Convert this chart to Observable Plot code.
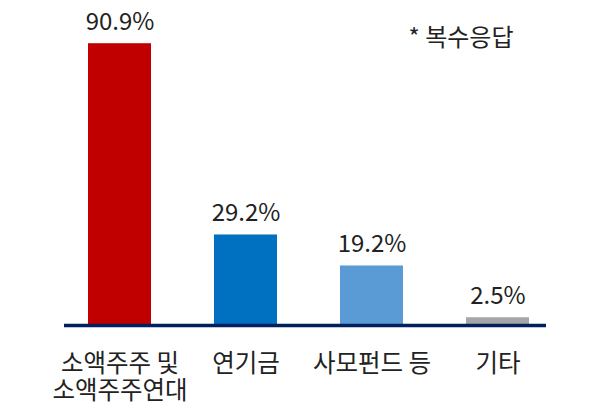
<!DOCTYPE html>
<html><head><meta charset="utf-8">
<script src="https://cdn.jsdelivr.net/npm/d3@7"></script>
<script src="https://cdn.jsdelivr.net/npm/@observablehq/plot@0.6"></script>
<style>body{margin:0;background:#fff;font-family:"Noto Sans CJK KR",sans-serif}</style>
</head><body><div id="chart"></div>
<script>
const categories = ["소액주주 및\n소액주주연대", "연기금", "사모펀드 등", "기타"];
const values = [90.9, 29.2, 19.2, 2.5];
const valueLabels = ["90.9%", "29.2%", "19.2%", "2.5%"];
const colors = ["#C00000", "#0070C0", "#5B9BD5", "#A6A6A6"];
const note = "* 복수응답";

const data = categories.map((c, i) => ({cat: c, v: values[i], label: valueLabels[i], color: colors[i]}));

const chart = Plot.plot({
  width: 600, height: 417,
  marginLeft: 56, marginRight: 40, marginTop: 15, marginBottom: 92,
  style: {fontFamily: '"Noto Sans CJK KR", sans-serif', background: "#fff"},
  x: {domain: categories, paddingInner: 0.5, paddingOuter: 0.25},
  y: {domain: [0, 100], axis: null},
  marks: [
    Plot.barY(data, {x: "cat", y: "v", fill: "color"}),
    Plot.ruleY([0], {stroke: "#002060", strokeWidth: 3.5, insetLeft: 8, insetRight: 14}),
    Plot.text(data, {x: "cat", y: "v", text: "label", dy: -14, lineAnchor: "bottom", fontSize: 24, fill: "#222"}),
    Plot.axisX({tickSize: 0, tickPadding: 27, fontSize: 24.5, lineHeight: 1.1, color: "#222", label: null}),
    Plot.text([note], {frameAnchor: "top-right", dx: -47, dy: 22.5, lineAnchor: "middle", textAnchor: "end", fontSize: 24, fill: "#222"})
  ]
});
document.getElementById("chart").appendChild(chart);
</script></body></html>
